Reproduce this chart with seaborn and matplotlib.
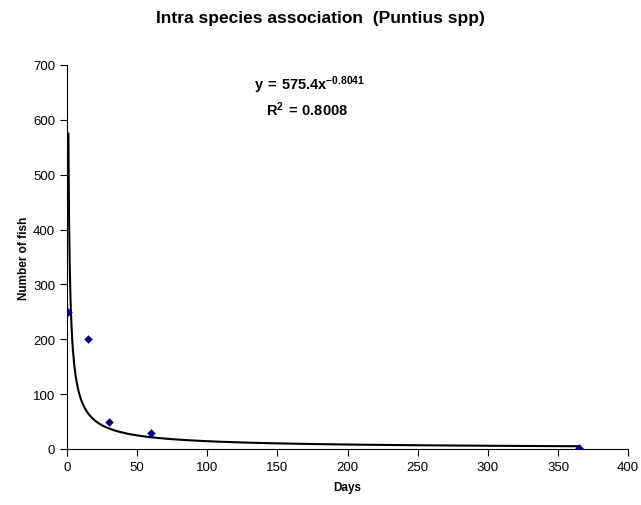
import numpy as np
import pandas as pd
import seaborn as sns
import matplotlib.pyplot as plt

# observed counts
days = [1, 15, 30, 60, 365]
fish = [250, 200, 50, 30, 2]

# power trend y = a * x^b
a = 575.4
b = -0.8041
r2 = 0.8008

sns.set_style("white")
plt.rcParams['font.family'] = ['Liberation Sans', 'DejaVu Sans']
plt.rcParams['text.color'] = 'black'
plt.rcParams['axes.labelcolor'] = 'black'
plt.rcParams['xtick.color'] = 'black'
plt.rcParams['ytick.color'] = 'black'
plt.rcParams['mathtext.fontset'] = 'custom'
plt.rcParams['mathtext.rm'] = 'Liberation Sans'
plt.rcParams['mathtext.bf'] = 'Liberation Sans:bold'

df = pd.DataFrame({"Days": days, "Fish": fish})
xs = np.linspace(1, 365, 800)
trend = pd.DataFrame({"Days": xs, "Fish": a * xs ** b})

fig = plt.figure(figsize=(6.41, 5.06), dpi=100)
ax = fig.add_axes([0.1045, 0.1107, 0.8755, 0.7589])

sns.lineplot(data=trend, x="Days", y="Fish", color="black", linewidth=1.5, ax=ax)
sns.scatterplot(data=df, x="Days", y="Fish", marker="D", s=16, color="#000080",
                edgecolor="#000080", zorder=3, ax=ax)

ax.set_xlim(0, 400)
ax.set_ylim(0, 700)
ax.set_xticks(range(0, 401, 50))
ax.set_yticks(range(0, 701, 100))
ax.tick_params(axis="both", direction="out", length=5, width=0.8, labelsize=9.5,
               bottom=True, left=True, color="black")
for s in ["top", "right"]:
    ax.spines[s].set_visible(False)
for s in ["left", "bottom"]:
    ax.spines[s].set_color("black")
    ax.spines[s].set_linewidth(0.8)

ax.set_xlabel("Days", fontsize=8.5, fontweight="bold", labelpad=6)
ax.set_ylabel("Number of fish", fontsize=8.5, fontweight="bold", labelpad=2)
fig.suptitle("Intra species association  (Puntius spp)", x=0.50, y=0.978,
             fontsize=12.5, fontweight="bold")

ax.text(173, 665, r"$\mathbf{y\,=\,%.1fx^{%.4f}}$" % (a, b), ha="center", va="center", fontsize=10.5)
ax.text(171, 620, r"$\mathbf{R^{2}\,=\,%.4f}$" % r2, ha="center", va="center", fontsize=10.5)

fig.savefig("out.png", dpi=100)
